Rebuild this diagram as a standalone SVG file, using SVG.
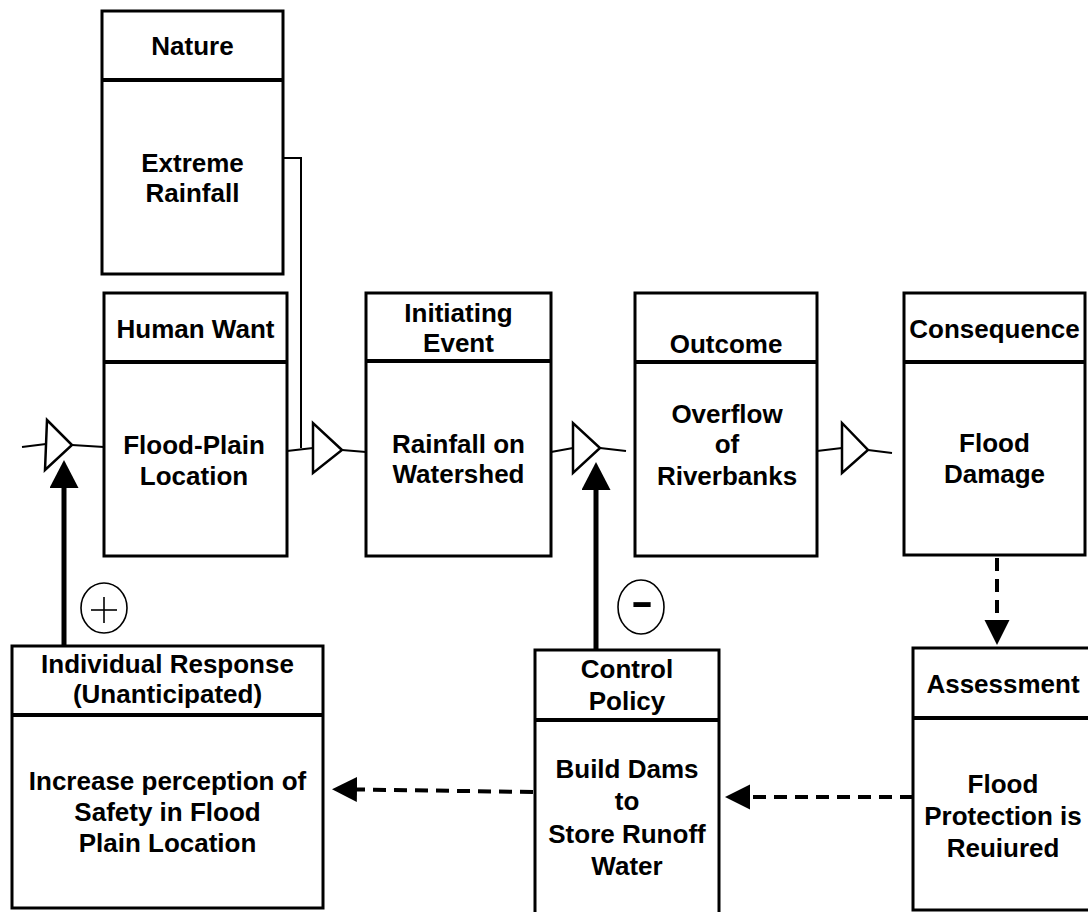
<svg xmlns="http://www.w3.org/2000/svg" width="1088" height="912" viewBox="0 0 1088 912">
<style>
.box{fill:#fff;stroke:#000;stroke-width:3}
.dv{stroke:#000;stroke-width:4}
.t{font-family:"Liberation Sans",Arial,sans-serif;font-weight:bold;font-size:26px;text-anchor:middle;fill:#000}
.thin{stroke:#000;stroke-width:2;fill:none}
.tri{fill:#fff;stroke:#000;stroke-width:2.5}
.thick{stroke:#000;stroke-width:5;fill:none}
.dash{stroke:#000;stroke-width:4;stroke-dasharray:13 8;fill:none}
.sym{fill:none;stroke:#000;stroke-width:1.6}
</style>
<defs>
<marker id="ahThick" markerUnits="userSpaceOnUse" markerWidth="30" markerHeight="30" refX="0" refY="14.5" orient="auto"><path d="M0,0 L28,14.5 L0,29 z" fill="#000"/></marker>
<marker id="ahDash" markerUnits="userSpaceOnUse" markerWidth="28" markerHeight="28" refX="0" refY="12.5" orient="auto"><path d="M0,0 L25,12.5 L0,25 z" fill="#000"/></marker>
</defs>
<rect width="1088" height="912" fill="#fff"/>

<g id="connectors">
  <polyline class="thin" points="283,158 301,158 301,448"/>
  <line class="thin" x1="22" y1="447" x2="46" y2="444"/>
  <polygon class="tri" points="47,420 45,470 72,445"/>
  <line class="thin" x1="72" y1="445" x2="104" y2="447"/>
  <line class="thin" x1="287" y1="451" x2="313" y2="448"/>
  <polygon class="tri" points="313,423 313,473 342,450"/>
  <line class="thin" x1="342" y1="450" x2="366" y2="452"/>
  <line class="thin" x1="551" y1="452" x2="573" y2="448"/>
  <polygon class="tri" points="573,423 573,473 600,448"/>
  <line class="thin" x1="600" y1="448" x2="626" y2="451"/>
  <line class="thin" x1="817" y1="451" x2="842" y2="448"/>
  <polygon class="tri" points="842,423 842,473 868,450"/>
  <line class="thin" x1="868" y1="450" x2="892" y2="453"/>
  <line class="thick" x1="64" y1="646" x2="64" y2="488" marker-end="url(#ahThick)"/>
  <line class="thick" x1="596" y1="650" x2="596" y2="490" marker-end="url(#ahThick)"/>
  <line class="dash" x1="997" y1="558" x2="997" y2="620" marker-end="url(#ahDash)"/>
  <line class="dash" x1="913" y1="797" x2="750" y2="797" marker-end="url(#ahDash)"/>
  <line class="dash" x1="533" y1="792" x2="357" y2="789.5" marker-end="url(#ahDash)"/>
  <ellipse class="sym" cx="104" cy="608" rx="23" ry="25"/>
  <line class="sym" x1="91" y1="610" x2="117" y2="610"/>
  <line class="sym" x1="104" y1="597" x2="104" y2="623"/>
  <ellipse class="sym" cx="641" cy="607" rx="23" ry="27"/>
  <text transform="translate(642,615) scale(1.7,1)" style="font-family:'Liberation Sans',Arial,sans-serif;font-weight:bold;font-size:40px;text-anchor:middle">-</text>
</g>

<g id="nature">
  <rect class="box" x="102" y="11" width="181" height="263"/>
  <line class="dv" x1="102" y1="80" x2="283" y2="80"/>
  <text class="t" x="192.5" y="55">Nature</text>
  <text class="t" x="192.5" y="172">Extreme</text>
  <text class="t" x="192.5" y="202">Rainfall</text>
</g>

<g id="human-want">
  <rect class="box" x="104" y="293" width="183" height="263"/>
  <line class="dv" x1="104" y1="362" x2="287" y2="362"/>
  <text class="t" x="195.5" y="338">Human Want</text>
  <text class="t" x="194" y="454">Flood-Plain</text>
  <text class="t" x="194" y="485">Location</text>
</g>

<g id="initiating-event">
  <rect class="box" x="366" y="293" width="185" height="263"/>
  <line class="dv" x1="366" y1="361" x2="551" y2="361"/>
  <text class="t" x="458.5" y="322">Initiating</text>
  <text class="t" x="458.5" y="352">Event</text>
  <text class="t" x="458.5" y="453">Rainfall on</text>
  <text class="t" x="458.5" y="483">Watershed</text>
</g>

<g id="outcome">
  <rect class="box" x="635" y="293" width="182" height="263"/>
  <line class="dv" x1="635" y1="362" x2="817" y2="362"/>
  <text class="t" x="726" y="353">Outcome</text>
  <text class="t" x="727" y="423">Overflow</text>
  <text class="t" x="727" y="453">of</text>
  <text class="t" x="727" y="485">Riverbanks</text>
</g>

<g id="consequence">
  <rect class="box" x="904" y="293" width="181" height="262"/>
  <line class="dv" x1="904" y1="362" x2="1085" y2="362"/>
  <text class="t" x="994.5" y="338">Consequence</text>
  <text class="t" x="994.5" y="452">Flood</text>
  <text class="t" x="994.5" y="483">Damage</text>
</g>

<g id="individual-response">
  <rect class="box" x="12" y="646" width="311" height="262"/>
  <line class="dv" x1="12" y1="715" x2="323" y2="715"/>
  <text class="t" x="167.5" y="673">Individual Response</text>
  <text class="t" x="167.5" y="703">(Unanticipated)</text>
  <text class="t" x="167.5" y="790">Increase perception of</text>
  <text class="t" x="167.5" y="821">Safety in Flood</text>
  <text class="t" x="167.5" y="852">Plain Location</text>
</g>

<g id="control-policy">
  <rect class="box" x="535" y="650" width="184" height="270"/>
  <line class="dv" x1="535" y1="720" x2="719" y2="720"/>
  <text class="t" x="627" y="678">Control</text>
  <text class="t" x="627" y="710">Policy</text>
  <text class="t" x="627" y="778">Build Dams</text>
  <text class="t" x="627" y="810">to</text>
  <text class="t" x="627" y="843">Store Runoff</text>
  <text class="t" x="627" y="875">Water</text>
</g>

<g id="assessment">
  <rect class="box" x="913" y="648" width="180" height="262"/>
  <line class="dv" x1="913" y1="718" x2="1093" y2="718"/>
  <text class="t" x="1003" y="693">Assessment</text>
  <text class="t" x="1003" y="793">Flood</text>
  <text class="t" x="1003" y="825">Protection is</text>
  <text class="t" x="1003" y="857">Reuiured</text>
</g>
</svg>
